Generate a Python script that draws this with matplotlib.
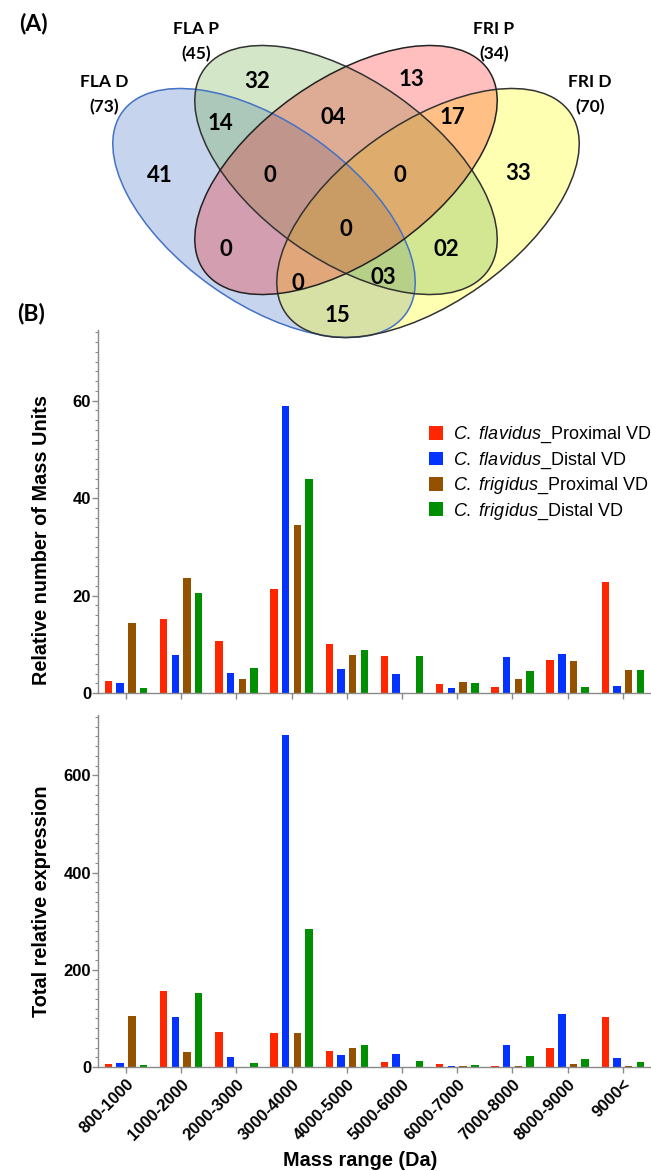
import matplotlib
matplotlib.use("Agg")
import matplotlib.pyplot as plt
from matplotlib.patches import Ellipse
from matplotlib.ticker import MultipleLocator
from matplotlib import font_manager
import numpy as np

plt.rcParams['font.family'] = ['Liberation Sans', 'DejaVu Sans']
plt.rcParams['mathtext.fontset'] = 'custom'
plt.rcParams['mathtext.it'] = 'Liberation Sans:italic'
plt.rcParams['mathtext.rm'] = 'Liberation Sans'

installed = {f.name for f in font_manager.fontManager.ttflist}
narrow = ['Liberation Sans Narrow'] if 'Liberation Sans Narrow' in installed else ['Liberation Sans']

# ---------------- data ----------------
categories = ["800-1000", "1000-2000", "2000-3000", "3000-4000", "4000-5000",
              "5000-6000", "6000-7000", "7000-8000", "8000-9000", "9000<"]
series_names = [r"$\mathit{C.\ flavidus}$_Proximal VD",
                r"$\mathit{C.\ flavidus}$_Distal VD",
                r"$\mathit{C.\ frigidus}$_Proximal VD",
                r"$\mathit{C.\ frigidus}$_Distal VD"]
series_colors = ["#ff2600", "#0433ff", "#945200", "#008f00"]

units_fla_prox = [2.4, 15.1, 10.6, 21.4, 10.0, 7.5, 1.8, 1.2, 6.8, 22.7]
units_fla_dist = [2.0, 7.9, 4.1, 59.0, 4.9, 3.9, 1.0, 7.3, 8.1, 1.4]
units_fri_prox = [14.4, 23.6, 2.9, 34.4, 7.8, 0.0, 2.3, 2.9, 6.6, 4.8]
units_fri_dist = [1.0, 20.5, 5.2, 43.9, 8.9, 7.5, 2.1, 4.5, 1.2, 4.7]

expr_fla_prox = [5.5, 156, 72.6, 70.5, 32, 11, 6, 3, 40, 103]
expr_fla_dist = [9, 103, 20.5, 682, 24, 26, 2, 45, 108, 18.5]
expr_fri_prox = [105, 31.5, 0, 69, 39, 0, 2, 3, 6, 3]
expr_fri_dist = [4, 152, 8, 283.5, 46, 12.3, 5, 22, 16, 9.6]

venn_sets = ["FLA D", "FLA P", "FRI P", "FRI D"]
venn_totals = [73, 45, 34, 70]
venn_region_counts = ["41", "32", "13", "33", "14", "04", "17", "0", "0",
                      "0", "0", "02", "0", "03", "15"]

# ---------------- layout ----------------
W, H = 651, 1171
fig = plt.figure(figsize=(W / 100, H / 100), dpi=100)

def fx(px):
    return px / W

def fy(py):
    return 1 - py / H

ax_left, ax_right = 98, 651
ax1 = fig.add_axes([fx(ax_left), fy(693), (ax_right - ax_left) / W, (693 - 330) / H])
ax2 = fig.add_axes([fx(ax_left), fy(1067), (ax_right - ax_left) / W, (1067 - 715) / H])

pitch = 0.212
bw = 0.135
grey = "#8a8a8a"

def draw_bars(ax, series, ymax, major, minor, show_labels):
    x = np.arange(len(categories))
    for i, (vals, col, name) in enumerate(zip(series, series_colors, series_names)):
        ax.bar(x + (i - 1.5) * pitch, vals, width=bw, color=col,
               edgecolor="none", label=name, zorder=2)
    ax.set_xlim(-0.507, 9.51)
    ax.set_ylim(0, ymax)
    ax.patch.set_alpha(0)
    for s in ["top", "right"]:
        ax.spines[s].set_visible(False)
    for s in ["left", "bottom"]:
        ax.spines[s].set_color(grey)
        ax.spines[s].set_linewidth(1.0)
    yt = np.arange(0, ymax, major)
    ax.set_yticks(yt, [f"{int(v)}" for v in yt], fontweight="bold", fontsize=12)
    ax.yaxis.set_minor_locator(MultipleLocator(minor))
    ax.tick_params(axis="y", which="major", length=4, width=1, color=grey, pad=1)
    ax.tick_params(axis="y", which="minor", length=2.5, width=0.8, color=grey)
    if show_labels:
        ax.set_xticks(x, categories, rotation=45, ha="right", rotation_mode="anchor",
                      fontweight="bold", fontsize=12, family=narrow)
    else:
        ax.set_xticks(x, [""] * len(categories))
    ax.tick_params(axis="x", which="major", length=4, width=1, color=grey, pad=3)

draw_bars(ax1, [units_fla_prox, units_fla_dist, units_fri_prox, units_fri_dist],
          74.5, 20, 2, False)
draw_bars(ax2, [expr_fla_prox, expr_fla_dist, expr_fri_prox, expr_fri_dist],
          724, 200, 20, True)

ax1.set_ylabel("Relative number of Mass Units", fontsize=14.3, fontweight="bold")
ax1.yaxis.set_label_coords((42 - ax_left) / (ax_right - ax_left), (693 - 540) / (693 - 330))
ax1.yaxis.label.set_va("center")
ax2.set_ylabel("Total relative expression", fontsize=14.3, fontweight="bold")
ax2.yaxis.set_label_coords((42 - ax_left) / (ax_right - ax_left), (1067 - 901) / (1067 - 715))
ax2.yaxis.label.set_va("center")
ax2.set_xlabel("Mass range (Da)", fontsize=14.3, fontweight="bold")
ax2.xaxis.set_label_coords((360 - ax_left) / (ax_right - ax_left), (1067 - 1161) / (1067 - 715))
ax2.xaxis.label.set_va("center")

ax1.legend(loc="upper left", bbox_to_anchor=(fx(429), fy(425)),
           bbox_transform=fig.transFigure, frameon=False, borderpad=0,
           borderaxespad=0, handlelength=0.78, handleheight=0.78,
           handletextpad=0.55, labelspacing=0.28, fontsize=13)

# ---------------- Venn diagram ----------------
axv = fig.add_axes([0, 0, 1, 1], zorder=5)
axv.set_xlim(0, W)
axv.set_ylim(H, 0)
axv.axis("off")
axv.patch.set_alpha(0)

ell_a, ell_b = 174, 90
# (center x, center y, angle, face colour, alpha, edge colour) in drawing order
ell_geom = {
    "FLA D": (264, 213, 35.3, "#4472C4", 0.30, "#4472C4"),
    "FRI D": (428, 213, -35.3, "#FFFF00", 0.30, "#333333"),
    "FLA P": (346, 170, 35.3, "#70AD47", 0.30, "#333333"),
    "FRI P": (346, 170, -35.3, "#FF0000", 0.25, "#222222"),
}
for name in ["FLA D", "FRI D", "FLA P", "FRI P"]:
    cx, cy, ang, fc, al, ec = ell_geom[name]
    axv.add_patch(Ellipse((cx, cy), 2 * ell_a, 2 * ell_b, angle=ang,
                          facecolor=fc, alpha=al, edgecolor="none"))
for name in ["FLA D", "FRI D", "FLA P", "FRI P"]:
    cx, cy, ang, fc, al, ec = ell_geom[name]
    axv.add_patch(Ellipse((cx, cy), 2 * ell_a, 2 * ell_b, angle=ang,
                          facecolor="none", edgecolor=ec, linewidth=1.1))

vfont = ["Lato", "DejaVu Sans"]
set_label_pos = [(104, 82), (196, 29), (494, 29), (590, 82)]
for (px, py), nm, tot in zip(set_label_pos, venn_sets, venn_totals):
    axv.text(px, py, nm, ha="center", va="center", fontsize=12.5,
             fontweight="bold", family=vfont)
    axv.text(px, py + 25, f"({tot})", ha="center", va="center", fontsize=12.5,
             fontweight="bold", family=vfont)

region_pos = [(160, 176), (257, 82), (411, 80), (518, 174), (220, 123), (333, 117),
              (452, 118), (270, 175), (400, 175), (346, 230), (226, 250), (446, 250),
              (298, 283), (383, 278), (337, 315)]
for (px, py), txt in zip(region_pos, venn_region_counts):
    axv.text(px, py, txt, ha="center", va="center", fontsize=16,
             fontweight="bold", family=vfont)

axv.text(33, 23, "(A)", ha="center", va="center", fontsize=16.5, fontweight="bold", family=vfont)
axv.text(31, 314, "(B)", ha="center", va="center", fontsize=16.5, fontweight="bold", family=vfont)

fig.savefig("out.png", dpi=100)
